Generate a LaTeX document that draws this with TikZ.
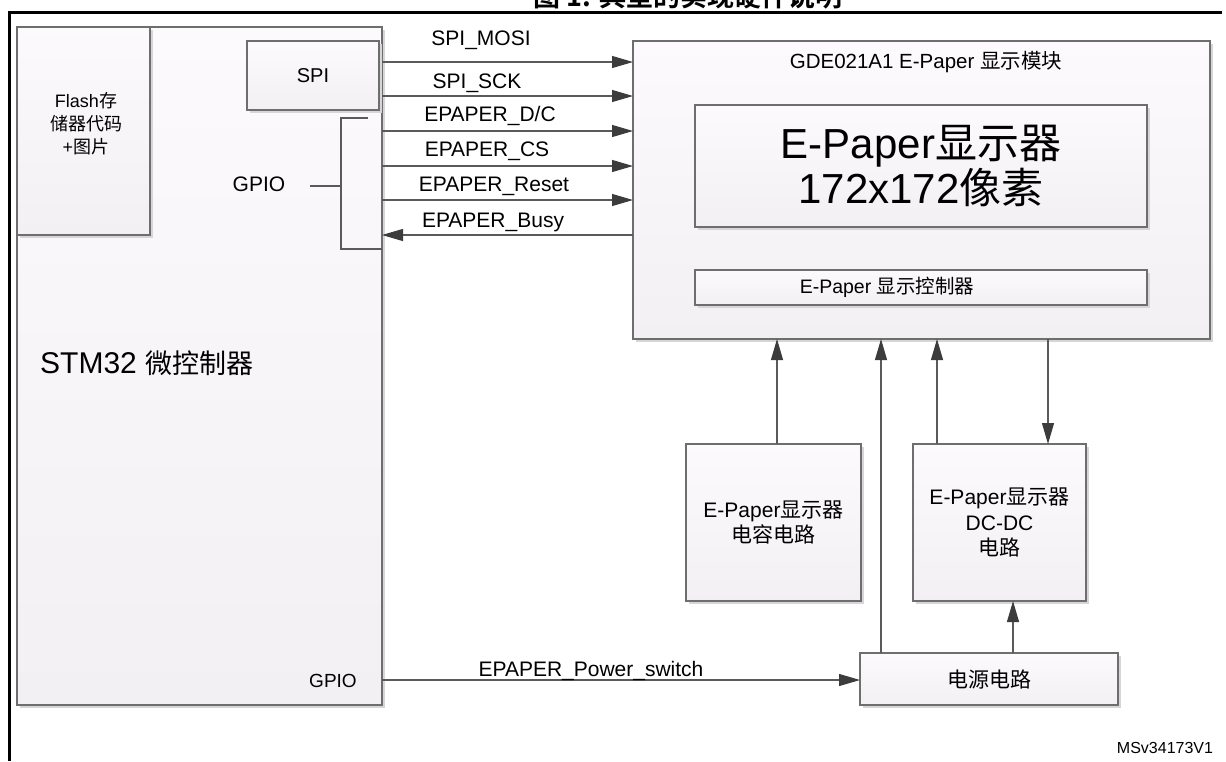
\documentclass[tikz,border=0pt]{standalone}
\usepackage{fontspec}
\setmainfont{Liberation Sans}
\newfontfamily\cjk{Noto Sans CJK SC}[BoldFont={Noto Sans CJK SC Bold}]
\usetikzlibrary{arrows.meta,shadows}
\newcommand\zh[1]{{\cjk #1}}
\newcommand\fsz[2]{\fontsize{#1}{#2}\selectfont}
\definecolor{boxc}{HTML}{6E6E6E}
\definecolor{linec}{HTML}{5A5A5A}
\definecolor{arrc}{HTML}{3C3C3C}
\definecolor{topc}{HTML}{FDFAFD}
\definecolor{botc}{HTML}{F2F0F2}
\definecolor{shc}{HTML}{D6D6D6}
\begin{document}
\begin{tikzpicture}[x=1pt,y=-1pt,
  box/.style={draw=boxc, line width=1.2pt, top color=topc, bottom color=botc,
    drop shadow={shadow xshift=2.5pt, shadow yshift=-2.5pt, fill=shc, opacity=1},
    inner sep=0pt, outer sep=0pt, anchor=north west, align=center},
  conn/.style={draw=linec, line width=1.1pt},
  arr/.style={conn, -{Triangle[length=21pt,width=12pt,color=arrc]}},
  lbl/.style={inner sep=0pt, anchor=base},
  f21/.style={font=\fsz{21}{25}},
]
\useasboundingbox (0,0) rectangle (1226,761);

% clipped title and frame
\node[lbl, font={\cjk\bfseries\fsz{27}{30}}] (title) at (688,6) {图 1. 典型的实现硬件说明};
\coordinate (fa) at (9,761);
\coordinate (fb) at (9,12);
\coordinate (fc) at (1222,12);
\draw[line width=3pt] (fa) -- (fb) -- (fc);

% boxes
\node[box, minimum width=365pt, minimum height=678pt] (stm) at (17,27) {};
\node[box, minimum width=133pt, minimum height=208pt] (flash) at (17,27) {};
\node[box, minimum width=132pt, minimum height=69pt, font=\fsz{20}{24}] (spi) at (247,41) {SPI};
\node[box, minimum width=577pt, minimum height=298pt] (module) at (633,41) {};
\node[box, minimum width=452pt, minimum height=122pt, font=\fsz{42}{41}] (disp) at (695,105)
  {E-Paper\zh{显示器}\\172x172\zh{像素}};
\node[box, minimum width=452pt, minimum height=35pt] (ctrl) at (695,270) {};
\node[box, minimum width=175pt, minimum height=157pt, f21] (cap) at (686,444)
  {E-Paper\zh{显示器}\\\zh{电容电路}};
\node[box, minimum width=173pt, minimum height=157pt, font=\fsz{21}{25.5}] (dcdc) at (913,444)
  {E-Paper\zh{显示器}\\DC-DC\\\zh{电路}};
\node[box, minimum width=258pt, minimum height=52pt, f21] (pwr) at (860,653) {\zh{电源电路}};

% texts inside boxes
\node[inner sep=0pt, align=center, font=\fsz{18}{23}] (flashtxt) at (86,124)
  {Flash\zh{存}\\\zh{储器代码}\\+\zh{图片}};
\node[inner sep=0pt, anchor=west, font=\fsz{30}{32}] (stmtxt) at (40,363)
  {STM32 {\cjk\fsz{27}{32}微控制器}};
\node[inner sep=0pt, font=\fsz{20.5}{24}] (modtxt) at (926,62) {GDE021A1 E-Paper \zh{显示模块}};
\node[inner sep=0pt, font=\fsz{19.5}{24}] (ctrltxt) at (887,287) {E-Paper \zh{显示控制器}};
\node[inner sep=0pt, font=\fsz{21}{24}] (gpio1) at (259,184) {GPIO};
\node[inner sep=0pt, font=\fsz{19}{24}] (gpio2) at (333,681) {GPIO};
\node[inner sep=0pt, font=\fsz{16}{20}] (code) at (1165,748) {MSv34173V1};

% GPIO bracket
\coordinate (g1) at (368,118);
\coordinate (g2) at (341,118);
\coordinate (g3) at (341,249);
\coordinate (g4) at (310,186);
\draw[conn] (g1) -- (g2) -- (g3) -- (stm.east |- g3);
\draw[conn] (g4) -- (g2 |- g4);

% signal rows
\coordinate (r1) at (0,62);
\coordinate (r2) at (0,96);
\coordinate (r3) at (0,131);
\coordinate (r4) at (0,166);
\coordinate (r5) at (0,200);
\coordinate (r6) at (0,235);
\coordinate (r7) at (0,680);
\draw[arr] (stm.east |- r1) -- (module.west |- r1);
\draw[arr] (stm.east |- r2) -- (module.west |- r2);
\draw[arr] (stm.east |- r3) -- (module.west |- r3);
\draw[arr] (stm.east |- r4) -- (module.west |- r4);
\draw[arr] (stm.east |- r5) -- (module.west |- r5);
\draw[arr] (module.west |- r6) -- (stm.east |- r6);
\draw[arr] (stm.east |- r7) -- (pwr.west |- r7);

\begin{scope}[font=\fsz{21}{24}]
\node[lbl] (l1) at (481,45) {SPI\_MOSI};
\node[lbl] (l2) at (477,88) {SPI\_SCK};
\node[lbl] (l3) at (490,121) {EPAPER\_D/C};
\node[lbl] (l4) at (487,156) {EPAPER\_CS};
\node[lbl] (l5) at (494,191) {EPAPER\_Reset};
\node[lbl] (l6) at (493,227) {EPAPER\_Busy};
\node[lbl] (l7) at (591,676) {EPAPER\_Power\_switch};
\end{scope}

% vertical connectors
\coordinate (c1) at (777,0);
\coordinate (c2) at (881,0);
\coordinate (c3) at (937,0);
\coordinate (c4) at (1048,0);
\coordinate (c5) at (1013,0);
\draw[arr] (cap.north -| c1) -- (module.south -| c1);
\draw[arr] (pwr.north -| c2) -- (module.south -| c2);
\draw[arr] (dcdc.north -| c3) -- (module.south -| c3);
\draw[arr] (module.south -| c4) -- (dcdc.north -| c4);
\draw[arr] (pwr.north -| c5) -- (dcdc.south -| c5);
\end{tikzpicture}
\end{document}
